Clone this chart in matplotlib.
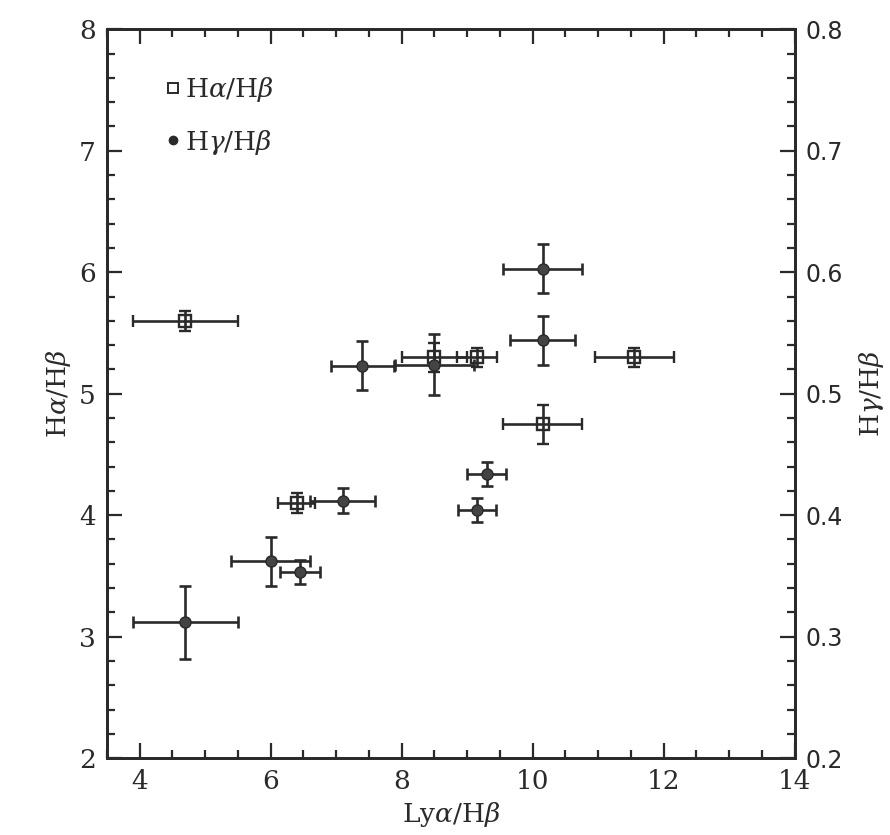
import matplotlib
matplotlib.use("Agg")
import matplotlib.pyplot as plt
from matplotlib.lines import Line2D
from matplotlib.ticker import MultipleLocator

plt.rcParams['font.family'] = ['DejaVu Serif']
plt.rcParams['mathtext.fontset'] = 'dejavuserif'

# H-alpha / H-beta (open squares, left axis)
ha_x = [4.7, 6.4, 8.5, 9.15, 10.15, 11.55]
ha_y = [5.6, 4.1, 5.3, 5.3, 4.75, 5.3]
ha_xerr = [0.8, 0.28, 0.5, 0.3, 0.6, 0.6]
ha_yerr = [0.08, 0.08, 0.12, 0.08, 0.16, 0.08]

# H-gamma / H-beta (filled circles, right axis)
hg_x = [4.7, 6.0, 6.45, 7.1, 7.4, 8.5, 10.15, 10.15, 9.3, 9.15]
hg_y = [0.312, 0.362, 0.353, 0.412, 0.523, 0.524, 0.603, 0.544, 0.434, 0.404]
hg_xerr = [0.8, 0.6, 0.3, 0.5, 0.48, 0.6, 0.6, 0.5, 0.3, 0.29]
hg_yerr = [0.03, 0.02, 0.01, 0.01, 0.02, 0.025, 0.02, 0.02, 0.01, 0.01]

ink = '#2a2a2a'

fig = plt.figure(figsize=(8.9, 8.35), dpi=100)
ax = fig.add_axes([0.12, 0.092, 0.773, 0.873])
ax2 = ax.twinx()

ax.errorbar(ha_x, ha_y, xerr=ha_xerr, yerr=ha_yerr, fmt='s', ms=9, mfc='none',
            mec=ink, mew=1.7, ecolor=ink, elinewidth=1.9, capsize=4, capthick=1.9)
ax2.errorbar(hg_x, hg_y, xerr=hg_xerr, yerr=hg_yerr, fmt='o', ms=8, mfc='#444444',
             mec=ink, ecolor=ink, elinewidth=1.9, capsize=4, capthick=1.9)

ax.set_xlim(3.5, 14)
ax.set_ylim(2, 8)
ax2.set_ylim(0.2, 0.8)

ax.xaxis.set_major_locator(MultipleLocator(2))
ax.xaxis.set_minor_locator(MultipleLocator(0.5))
ax.yaxis.set_major_locator(MultipleLocator(1))
ax.yaxis.set_minor_locator(MultipleLocator(0.2))
ax2.yaxis.set_major_locator(MultipleLocator(0.1))
ax2.yaxis.set_minor_locator(MultipleLocator(0.02))

ax.tick_params(which='both', direction='in', top=True, right=False, colors=ink, width=1.6)
ax.tick_params(which='major', length=11, labelsize=19, pad=8)
ax.tick_params(which='minor', length=6)
ax2.tick_params(which='both', direction='in', colors=ink, width=1.6)
ax2.tick_params(which='major', length=11, labelsize=17, pad=8, labelfontfamily='DejaVu Sans')
ax2.tick_params(which='minor', length=6)

for a in (ax, ax2):
    for s in a.spines.values():
        s.set_linewidth(2)
        s.set_color(ink)

ax.set_xlabel(r'Ly$\alpha$/H$\beta$', fontsize=19, color=ink)
ax.set_ylabel(r'H$\alpha$/H$\beta$', fontsize=19, color=ink)
ax2.set_ylabel(r'H$\gamma$/H$\beta$', fontsize=19, color=ink, rotation=90, labelpad=10)

handles = [Line2D([], [], ls='none', marker='s', ms=7, mfc='none', mec=ink, mew=1.4),
           Line2D([], [], ls='none', marker='o', ms=6, mfc=ink, mec=ink)]
ax.legend(handles, [r'H$\alpha$/H$\beta$', r'H$\gamma$/H$\beta$'], loc='upper left',
          bbox_to_anchor=(0.05, 0.97), frameon=False, fontsize=19, handlelength=0.6,
          handletextpad=0.15, labelspacing=0.9, labelcolor=ink)

fig.savefig('out.png', dpi=100)
